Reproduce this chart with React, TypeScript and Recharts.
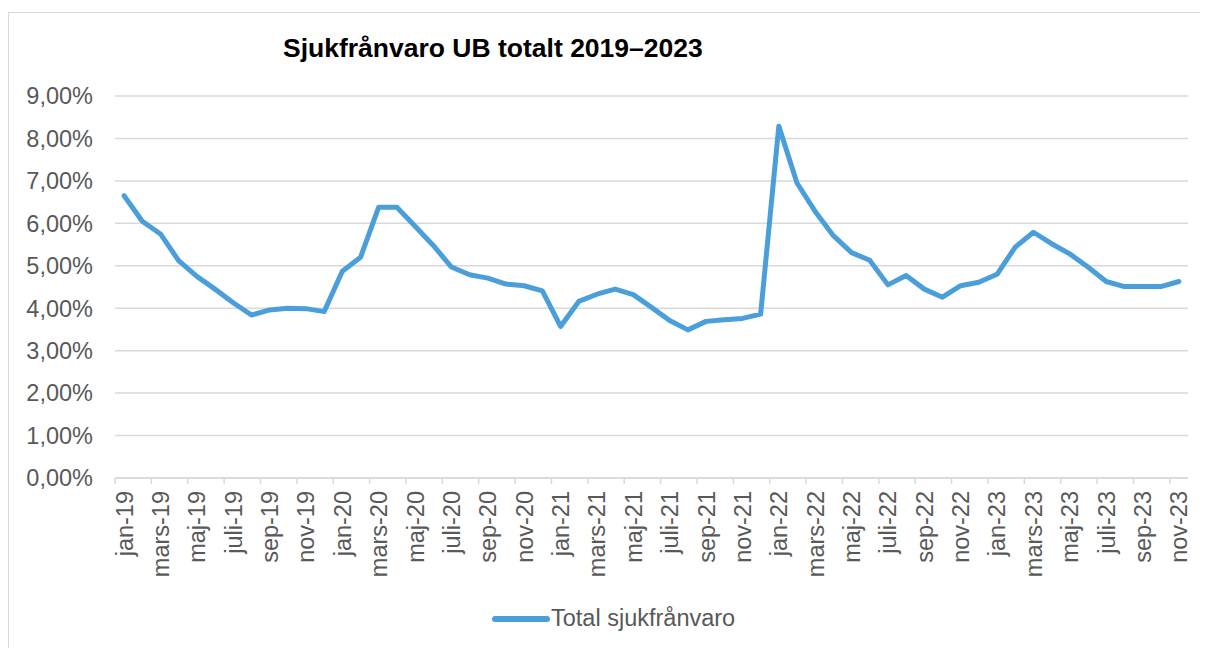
import { CartesianGrid, Legend, Line, LineChart, XAxis, YAxis } from 'recharts';

// jan-19 .. nov-23, Swedish month names as used in the source sheet
const months = [
  'jan-19', 'feb-19', 'mars-19', 'apr-19', 'maj-19', 'juni-19', 'juli-19', 'aug-19', 'sep-19', 'okt-19', 'nov-19', 'dec-19',
  'jan-20', 'feb-20', 'mars-20', 'apr-20', 'maj-20', 'juni-20', 'juli-20', 'aug-20', 'sep-20', 'okt-20', 'nov-20', 'dec-20',
  'jan-21', 'feb-21', 'mars-21', 'apr-21', 'maj-21', 'juni-21', 'juli-21', 'aug-21', 'sep-21', 'okt-21', 'nov-21', 'dec-21',
  'jan-22', 'feb-22', 'mars-22', 'apr-22', 'maj-22', 'juni-22', 'juli-22', 'aug-22', 'sep-22', 'okt-22', 'nov-22', 'dec-22',
  'jan-23', 'feb-23', 'mars-23', 'apr-23', 'maj-23', 'juni-23', 'juli-23', 'aug-23', 'sep-23', 'okt-23', 'nov-23',
];

// sick leave in percent
const sickLeave = [
  6.65, 6.05, 5.75, 5.12, 4.75, 4.45, 4.13, 3.84, 3.96, 4.0, 3.99, 3.92,
  4.87, 5.2, 6.38, 6.38, 5.93, 5.48, 4.97, 4.79, 4.71, 4.57, 4.53, 4.41,
  3.57, 4.16, 4.33, 4.45, 4.32, 4.02, 3.71, 3.49, 3.69, 3.73, 3.76, 3.86,
  8.29, 6.95, 6.28, 5.71, 5.31, 5.13, 4.55, 4.77, 4.45, 4.26, 4.53, 4.61,
  4.8, 5.44, 5.79, 5.52, 5.28, 4.97, 4.63, 4.51, 4.51, 4.51, 4.63,
];

const yTicks = [0, 1, 2, 3, 4, 5, 6, 7, 8, 9];

const seriesName = 'Total sjukfrånvaro';
const title = 'Sjukfrånvaro UB totalt 2019–2023';

const data = months.map((m, i) => ({ month: m, value: sickLeave[i] }));

const FONT = 'Arial, "Liberation Sans", sans-serif';
const LINE_COLOR = '#4A9FDB';
const GRID = '#d9d9d9';
const TEXT = '#595959';

// plot is 1073px wide, split in one slot per month like Excel does
const PLOT_W = 1073;
const HALF_SLOT = PLOT_W / months.length / 2;

const fmtPct = (v: number) => `${v.toFixed(2).replace('.', ',')}%`;

// Excel-style: tick mark on the category boundary, label rotated under the category
function MonthTick(props: any) {
  const { x, y, payload } = props;
  const bx = x - HALF_SLOT;
  return (
    <g>
      <line x1={bx} x2={bx} y1={y} y2={y + 6} stroke={GRID} strokeWidth={1.5} />
      <text
        x={x}
        y={y + 13}
        transform={`rotate(-90, ${x}, ${y + 13})`}
        textAnchor="end"
        dy="0.36em"
        fill={TEXT}
        fontSize={23.5}
        fontFamily={FONT}
      >
        {payload.value}
      </text>
    </g>
  );
}

export default function App() {
  return (
    <div
      style={{
        position: 'relative',
        marginTop: 4,
        width: 1200,
        height: 640,
        border: `1px solid ${GRID}`,
        background: '#fff',
        fontFamily: FONT,
      }}
    >
      <div
        style={{
          position: 'absolute',
          left: 274,
          top: 20,
          fontSize: 26.5,
          lineHeight: '30px',
          fontWeight: 'bold',
          color: '#000',
          whiteSpace: 'nowrap',
        }}
      >
        {title}
      </div>

      <LineChart
        width={1190}
        height={635}
        data={data}
        margin={{ top: 83, right: 11, left: 0, bottom: 0 }}
      >
        <CartesianGrid vertical={false} stroke={GRID} strokeWidth={1.5} />
        <XAxis
          dataKey="month"
          interval={1}
          height={170}
          padding={{ left: HALF_SLOT, right: HALF_SLOT }}
          tickSize={0}
          tickMargin={0}
          tickLine={false}
          axisLine={{ stroke: GRID, strokeWidth: 1.5 }}
          tick={<MonthTick />}
        />
        <YAxis
          width={106}
          domain={[0, 9]}
          ticks={yTicks}
          tickFormatter={fmtPct}
          axisLine={false}
          tickLine={false}
          tickSize={0}
          tickMargin={22}
          tick={{ fill: TEXT, fontSize: 23.5, fontFamily: FONT }}
        />
        <Legend
          verticalAlign="middle"
          align="center"
          wrapperStyle={{ top: 592, left: 482, width: 320 }}
          content={() => (
            <div style={{ display: 'flex', alignItems: 'center' }}>
              <svg width={60} height={12}>
                <line x1={4} x2={56} y1={6} y2={6} stroke={LINE_COLOR} strokeWidth={6} strokeLinecap="round" />
              </svg>
              <span style={{ color: TEXT, fontSize: 23.5, fontFamily: FONT }}>{seriesName}</span>
            </div>
          )}
        />
        <Line
          type="linear"
          dataKey="value"
          name={seriesName}
          stroke={LINE_COLOR}
          strokeWidth={5}
          strokeLinejoin="round"
          strokeLinecap="round"
          dot={false}
          activeDot={false}
          isAnimationActive={false}
        />
      </LineChart>
    </div>
  );
}
